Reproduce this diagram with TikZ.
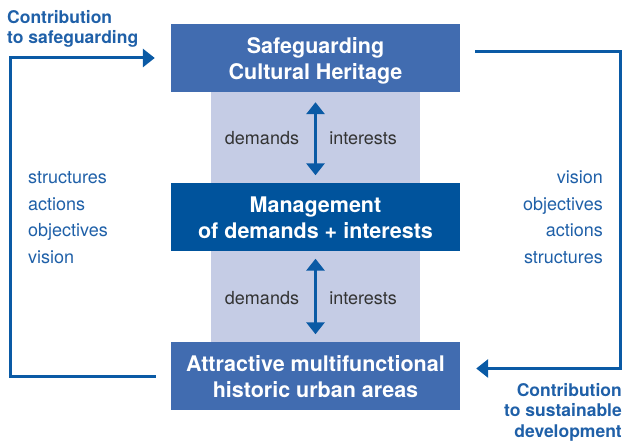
\documentclass[tikz,border=0pt]{standalone}
\usepackage{fontspec}
\setmainfont{TeX Gyre Heros}
\usetikzlibrary{arrows.meta}
\definecolor{boxblue}{HTML}{416CB0}
\definecolor{darkblue}{HTML}{00539C}
\definecolor{bandblue}{HTML}{C5CCE5}
\definecolor{lineblue}{HTML}{0A5AA5}
\definecolor{listblue}{HTML}{1F60A8}
\definecolor{txtgray}{HTML}{333333}

\begin{document}
\begin{tikzpicture}[line join=miter,x=1pt,y=-1pt,
	>={Triangle[width=18pt,length=12pt]},
	box/.style={fill=boxblue,text=white,minimum width=289pt,minimum height=68pt,
		inner sep=0pt,text depth=0pt,align=center,font=\fontsize{21.5}{26}\selectfont\bfseries},
	flow/.style={<->,color=lineblue,line width=3pt},
	loopline/.style={->,color=lineblue,line width=3pt},
	sidetxt/.style={color=listblue,inner sep=0pt,font=\fontsize{18}{20.5}\selectfont},
	contrib/.style={sidetxt,font=\fontsize{17.5}{20.5}\selectfont\bfseries},
	pairtxt/.style={color=txtgray,inner sep=0pt,font=\fontsize{18}{20}\selectfont}]

		\useasboundingbox (0,0) rectangle (625,443);

		%hintergrund
		\fill[bandblue] (211,92) rectangle (420,342);

		%kaesten
		\node[box] (top) at (315.5,58) {Safeguarding\\Cultural Heritage};
		\node[box,fill=darkblue] (mid) at (315.5,217.5) {Management\\of demands + interests};
		\node[box] (bot) at (315.5,376.5) {Attractive multifunctional\\historic urban areas};

		%pfeile in der mitte
		\draw[flow,shorten <=10pt,shorten >=8pt] (top.south) -- (mid.north);
		\draw[flow,shorten <=7pt,shorten >=8pt] (mid.south) -- (bot.north);

		\node[pairtxt] (dem1) at (262,138) {demands};
		\node[pairtxt] (int1) at (363,138) {interests};
		\node[pairtxt] (dem2) at (262,298) {demands};
		\node[pairtxt] (int2) at (363,298) {interests};

		%linke schleife
		\coordinate (lx) at (10,0);
		\draw[loopline] ([xshift=-15pt]bot.west) -- (bot.west -| lx) -- (top.west -| lx) -- ([xshift=-16pt]top.west);

		%rechte schleife
		\coordinate (rx) at (620,0);
		\coordinate (rtop) at ([xshift=15pt,yshift=6pt]top.east);
		\coordinate (rbot) at ([xshift=16pt,yshift=8pt]bot.east);
		\draw[loopline] (rtop) -- (rtop -| rx) -- (rbot -| rx) -- (rbot);

		%beschriftungen
		\node[contrib,align=left,anchor=north west] (csafe) at (7,10) {Contribution\\to safeguarding};
		\node[contrib,align=right,anchor=north east] (csust) at (622,383) {Contribution\\to sustainable\\development};

		\foreach \w [count=\i] in {structures,actions,objectives,vision}
		{
		\node[sidetxt,anchor=base west] (left\i) at (28,184+26.5*\i-26.5) {\w};
		}
		\foreach \w [count=\i] in {vision,objectives,actions,structures}
		{
		\node[sidetxt,anchor=base east] (right\i) at (603,184+26.5*\i-26.5) {\w};
		}

	\end{tikzpicture}
\end{document}
